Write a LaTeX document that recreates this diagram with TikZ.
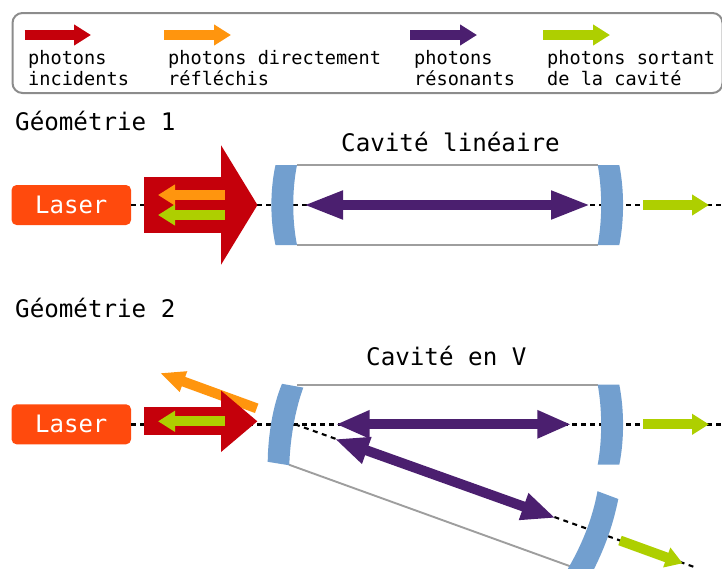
\documentclass[tikz,border=0pt]{standalone}
\usepackage{fontspec}
\usetikzlibrary{arrows.meta}
\newfontfamily\djm{DejaVu Sans Mono}
\definecolor{cred}{HTML}{C5000B}
\definecolor{corange}{HTML}{FF950E}
\definecolor{cpurple}{HTML}{4B1F6F}
\definecolor{cgreen}{HTML}{AECF00}
\definecolor{cblue}{HTML}{729FCF}
\definecolor{claser}{HTML}{FF4A0D}
\tikzset{
  small/.style={anchor=base west,inner sep=0pt,font=\djm\fontsize{18.6}{18.6}\selectfont,align=left},
  big/.style={anchor=base west,inner sep=0pt,font=\djm\fontsize{24.2}{24.2}\selectfont},
  laserbox/.style={fill=claser,rounded corners=5pt,minimum width=119.5pt,minimum height=40pt,inner sep=0pt,text=white,font=\djm\fontsize{24}{24}\selectfont},
  thin arrow/.style={line width=10pt,-{Triangle[length=17pt,width=20pt]}},
  resonant/.style={draw=cpurple,line width=10pt,{Triangle[length=40pt,width=26pt]}-{Triangle[length=40pt,width=26pt]}},
  resonantv/.style={draw=cpurple,line width=10pt,{Triangle[length=34pt,width=26pt]}-{Triangle[length=34pt,width=26pt]}},
  beam/.style={draw=black,line width=2.4pt,dash pattern=on 5pt off 4pt},
  beamthin/.style={draw=black,line width=2.1pt,dash pattern=on 5pt off 4.5pt},
  mirror/.style={fill=cblue},
  wall/.style={draw=black!38,line width=1.9pt},
}
\begin{document}
\begin{tikzpicture}[x=1pt,y=-1pt]
\useasboundingbox (0,0) rectangle (722,568);
% legend
\node[draw=black!45,line width=2pt,rounded corners=10pt,anchor=north west,minimum width=710pt,minimum height=80pt,inner sep=0pt] (legend) at (11.5,12) {};
\coordinate (la1) at (24.7,35); \coordinate (lb1) at (91,35);
\coordinate (la2) at (164,35); \coordinate (lb2) at (231,35);
\coordinate (la3) at (410,35); \coordinate (lb3) at (477,35);
\coordinate (la4) at (543,35); \coordinate (lb4) at (610,35);
\draw[thin arrow,cred] (la1) -- (lb1);
\draw[thin arrow,corange] (la2) -- (lb2);
\draw[thin arrow,cpurple] (la3) -- (lb3);
\draw[thin arrow,cgreen] (la4) -- (lb4);
\node[small] (t1a) at (28,64) {photons};
\node[small] (t1b) at (28,85) {incidents};
\node[small] (t2a) at (168,64) {photons directement};
\node[small] (t2b) at (168,85) {réfléchis};
\node[small] (t3a) at (414,64) {photons};
\node[small] (t3b) at (414,85) {résonants};
\node[small] (t4a) at (547,64) {photons sortant};
\node[small] (t4b) at (547,85) {de la cavité};
% geometry 1
\node[big] (g1) at (15,130) {Géométrie 1};
\node[big] (c1) at (341,151) {Cavité linéaire};
\node[laserbox] (laser1) at (71.3,205) {Laser};
\coordinate (e1) at (722,205);
\draw[beam] (laser1.east) -- (e1);
\coordinate (w1a) at (297,165); \coordinate (w1b) at (597.7,165);
\coordinate (w1c) at (297,245); \coordinate (w1d) at (597.7,245);
\draw[wall] (w1a) -- (w1b);
\draw[wall] (w1c) -- (w1d);
\fill[mirror] (275.5,165) -- (297,165) .. controls (292,190) and (292,220) .. (297,245) -- (275.5,245) .. controls (270,220) and (270,190) .. (275.5,165) -- cycle;
\fill[mirror] (597.7,165) -- (619.3,165) .. controls (624.3,190) and (624.3,220) .. (619.3,245) -- (597.7,245) .. controls (602.3,220) and (602.3,190) .. (597.7,165) -- cycle;
\coordinate (r1a) at (144,205); \coordinate (r1b) at (257.5,205);
\draw[line width=56pt,cred,-{Triangle[length=36.5pt,width=118pt]}] (r1a) -- (r1b);
\coordinate (o1a) at (224.5,195); \coordinate (o1b) at (158,195);
\draw[thin arrow,corange] (o1a) -- (o1b);
\coordinate (g1a) at (224.5,215); \coordinate (g1b) at (158,215);
\draw[thin arrow,cgreen] (g1a) -- (g1b);
\coordinate (p1a) at (303,205); \coordinate (p1b) at (591,205);
\draw[resonant] (p1a) -- (p1b);
\coordinate (s1a) at (643,205); \coordinate (s1b) at (709,205);
\draw[thin arrow,cgreen] (s1a) -- (s1b);
% geometry 2
\node[big] (g2) at (15,317) {Géométrie 2};
\node[big] (c2) at (366,365) {Cavité en V};
\node[laserbox] (laser2) at (71.3,424.3) {Laser};
\coordinate (e2) at (722,424.3);
\coordinate (d0) at (295,424.3);
\coordinate (d1) at (697,568);
\draw[beam] (laser2.east) -- (e2);
\draw[beamthin] (d0) -- (d1);
\coordinate (w2a) at (297,384.7); \coordinate (w2b) at (597.7,384.7);
\coordinate (w2c) at (289,464.7); \coordinate (w2d) at (570.3,566.3);
\draw[wall] (w2a) -- (w2b);
\draw[wall] (w2c) -- (w2d);
\fill[mirror] (282,383.8) -- (303.3,387.6) .. controls (295,410) and (290,440) .. (289.3,465.3) -- (267.7,461.8) .. controls (268,435) and (273,405) .. (282,383.8) -- cycle;
\fill[mirror] (597.7,384.7) -- (619.3,384.7) .. controls (624.3,410) and (624.3,440) .. (619.3,464.7) -- (597.7,464.7) .. controls (602.3,440) and (602.3,410) .. (597.7,384.7) -- cycle;
\fill[mirror] (597.5,491.2) -- (618.3,499) .. controls (613,525) and (605,548) .. (591,575) -- (566,572) .. controls (582,545) and (592,520) .. (597.5,491.2) -- cycle;
\coordinate (o2a) at (256.7,408.3); \coordinate (o2b) at (160,373);
\draw[line width=10pt,corange,-{Triangle[length=25pt,width=20pt]}] (o2a) -- (o2b);
\coordinate (r2a) at (144,421.3); \coordinate (r2b) at (257.5,421.3);
\draw[line width=28pt,cred,-{Triangle[length=36.5pt,width=59pt]}] (r2a) -- (r2b);
\coordinate (g2a) at (224.5,421.3); \coordinate (g2b) at (158,421.3);
\draw[thin arrow,cgreen] (g2a) -- (g2b);
\coordinate (p2a) at (335.7,424.3); \coordinate (p2b) at (571.3,424.3);
\draw[resonantv] (p2a) -- (p2b);
\coordinate (p3a) at (334.8,439) ; \coordinate (p3b) at (555.6,518);
\draw[resonantv] (p3a) -- (p3b);
\coordinate (s2a) at (643,424.3); \coordinate (s2b) at (709,424.3);
\draw[thin arrow,cgreen] (s2a) -- (s2b);
\coordinate (s3a) at (620,540.5); \coordinate (s3b) at (682.7,563.3);
\draw[thin arrow,cgreen] (s3a) -- (s3b);
\end{tikzpicture}
\end{document}
